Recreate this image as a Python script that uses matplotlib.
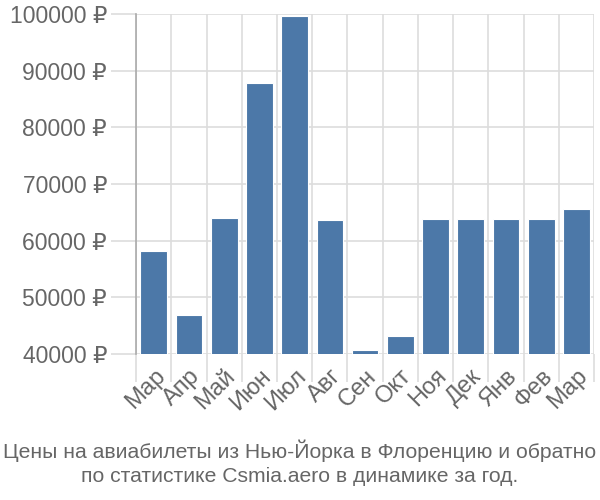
import numpy as np
import matplotlib.pyplot as plt
from matplotlib.ticker import FixedLocator, FuncFormatter

plt.rcParams['font.family'] = ['Liberation Sans', 'DejaVu Sans']

# Data
months = ["Мар", "Апр", "Май", "Июн", "Июл", "Авг", "Сен", "Окт",
          "Ноя", "Дек", "Янв", "Фев", "Мар"]
prices = [58100, 46800, 64000, 87900, 99700, 63600, 40700, 43100,
          63800, 63800, 63800, 63800, 65600]
title = "Цены на авиабилеты из Нью-Йорка в Флоренцию и обратно\nпо статистике Csmia.aero в динамике за год."

fig = plt.figure(figsize=(6, 5), dpi=100)
ax = fig.add_axes([0.227, 0.292, 0.763, 0.68])

x = np.arange(len(months))
ax.bar(x, prices, width=0.76, color="#4c78a8", edgecolor="white", linewidth=0.8,
       zorder=3)

ax.set_xlim(-0.5, len(months) - 0.5)
ax.set_ylim(40000, 100000)

# ticks
ax.set_yticks(range(40000, 100001, 10000))
ax.yaxis.set_major_formatter(FuncFormatter(lambda v, p: f"{int(v)} ₽"))
ax.set_xticks(x)
ax.set_xticklabels(months, rotation=45, ha="right", rotation_mode="anchor")
ax.xaxis.set_minor_locator(FixedLocator(np.arange(-0.5, len(months), 1.0)))

ax.tick_params(axis="y", length=18, width=1.2, color="#dddddd",
               labelsize=16.5, labelcolor="#666666", pad=3)
ax.tick_params(axis="x", which="major", length=0, labelsize=17,
               labelcolor="#666666", pad=8)
ax.tick_params(axis="x", which="minor", length=20, width=1.2, color="#dddddd")

ax.grid(True, axis="y", color="#dddddd", linewidth=1.2, zorder=0)
ax.grid(True, axis="x", which="minor", color="#dddddd", linewidth=1.2, zorder=0)

for s in ["top", "right", "bottom"]:
    ax.spines[s].set_visible(False)
ax.spines["left"].set_color("#aaaaaa")
ax.spines["left"].set_linewidth(1.2)

fig.text(0.5, 0.028, title, ha="center", va="bottom", fontsize=15.2,
         color="#666666", linespacing=1.3)

fig.savefig("out.png", dpi=100)
